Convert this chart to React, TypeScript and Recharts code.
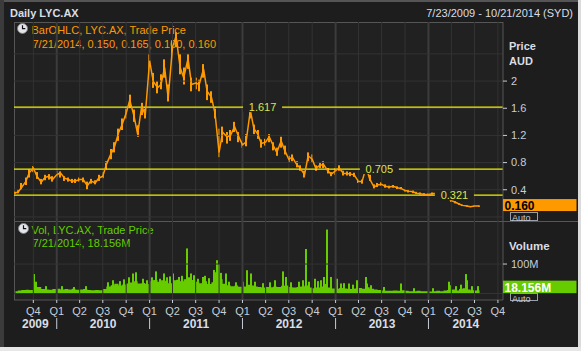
import React from 'react';
import { ComposedChart, Line, Area, Bar, XAxis, YAxis, ReferenceLine, ReferenceDot } from 'recharts';

// ---------- data ----------
const dates = [
  '2009-07-23','2009-08-01','2009-08-15','2009-09-01','2009-09-15','2009-10-01','2009-10-15','2009-11-01','2009-11-15','2009-12-01','2009-12-15',
  '2010-01-01','2010-01-15','2010-02-01','2010-02-15','2010-03-01','2010-03-15','2010-04-01','2010-04-15','2010-05-01','2010-05-15','2010-06-01','2010-06-15',
  '2010-07-01','2010-07-15','2010-08-01','2010-08-15','2010-09-01','2010-09-15','2010-10-01','2010-10-15','2010-11-01','2010-11-15','2010-12-01','2010-12-15',
  '2011-01-01','2011-01-15','2011-02-01','2011-02-15','2011-03-01','2011-03-15','2011-04-01','2011-04-15','2011-05-01','2011-05-15','2011-06-01','2011-06-15',
  '2011-07-01','2011-07-15','2011-08-01','2011-08-15','2011-09-01','2011-09-15','2011-10-01','2011-10-15','2011-11-01','2011-11-15','2011-12-01','2011-12-15',
  '2012-01-01','2012-01-15','2012-02-01','2012-02-15','2012-03-01','2012-03-15','2012-04-01','2012-04-15','2012-05-01','2012-05-15','2012-06-01','2012-06-15',
  '2012-07-01','2012-07-15','2012-08-01','2012-08-15','2012-09-01','2012-09-15','2012-10-01','2012-10-15','2012-11-01','2012-11-15','2012-12-01','2012-12-15',
  '2013-01-01','2013-01-15','2013-02-01','2013-02-15','2013-03-01','2013-03-15','2013-04-01','2013-04-15','2013-05-01','2013-05-15','2013-06-01','2013-06-15',
  '2013-07-01','2013-07-15','2013-08-01','2013-08-15','2013-09-01','2013-09-15','2013-10-01','2013-10-15','2013-11-01','2013-11-15','2013-12-01','2013-12-15',
  '2014-01-01','2014-01-15','2014-02-01','2014-02-15','2014-03-01','2014-03-15','2014-04-01','2014-04-15','2014-05-01','2014-05-15','2014-06-01','2014-06-15',
  '2014-07-01','2014-07-21',
];

const closes = [
  0.36, 0.36, 0.43, 0.52, 0.65, 0.72, 0.60, 0.51, 0.58, 0.60, 0.55,
  0.62, 0.65, 0.57, 0.55, 0.53, 0.53, 0.55, 0.55, 0.46, 0.53, 0.50, 0.57,
  0.60, 0.77, 0.92, 1.02, 1.24, 1.36, 1.53, 1.72, 1.48, 1.22, 1.63, 1.50,
  2.30, 2.00, 1.90, 1.95, 2.20, 1.75, 2.50, 2.66, 2.20, 2.05, 2.33, 1.95,
  1.97, 1.95, 2.18, 1.85, 1.76, 1.53, 0.95, 1.25, 1.18, 1.20, 1.33, 1.20,
  1.06, 1.10, 1.57, 1.30, 1.22, 1.08, 1.10, 1.18, 1.05, 0.95, 1.12, 0.98,
  0.85, 0.88, 0.77, 0.72, 0.62, 0.90, 0.85, 0.72, 0.76, 0.77, 0.68, 0.63,
  0.68, 0.72, 0.64, 0.64, 0.63, 0.62, 0.52, 0.52, 0.73, 0.56, 0.44, 0.47,
  0.48, 0.45, 0.44, 0.45, 0.43, 0.42, 0.39, 0.38, 0.37, 0.35, 0.34, 0.33,
  0.33, 0.34, 0.35, 0.34, 0.32, 0.28, 0.24, 0.22, 0.19, 0.17, 0.16, 0.15,
  0.16, 0.16,
];

const lows = [
  0.34, 0.35, 0.40, 0.47, 0.58, 0.66, 0.56, 0.48, 0.54, 0.55, 0.52,
  0.58, 0.58, 0.53, 0.52, 0.50, 0.50, 0.52, 0.51, 0.40, 0.49, 0.48, 0.53,
  0.57, 0.70, 0.85, 0.95, 1.12, 1.28, 1.45, 1.60, 1.40, 1.18, 1.50, 1.45,
  2.05, 1.90, 1.82, 1.88, 2.05, 1.70, 2.35, 2.50, 2.10, 1.95, 2.18, 1.85,
  1.88, 1.85, 2.05, 1.72, 1.68, 1.45, 0.88, 1.10, 1.08, 1.12, 1.25, 1.10,
  1.02, 1.04, 1.45, 1.22, 1.15, 1.02, 1.05, 1.10, 0.98, 0.90, 1.02, 0.92,
  0.80, 0.82, 0.73, 0.68, 0.58, 0.82, 0.80, 0.68, 0.72, 0.72, 0.64, 0.60,
  0.62, 0.68, 0.61, 0.61, 0.60, 0.59, 0.50, 0.49, 0.66, 0.53, 0.42, 0.44,
  0.46, 0.43, 0.42, 0.43, 0.41, 0.40, 0.37, 0.36, 0.35, 0.34, 0.33, 0.32,
  0.32, 0.33, 0.33, 0.32, 0.30, 0.26, 0.22, 0.20, 0.18, 0.16, 0.15, 0.145,
  0.15, 0.15,
];

const highs = [
  0.37, 0.40, 0.50, 0.58, 0.70, 0.75, 0.66, 0.56, 0.62, 0.63, 0.60,
  0.68, 0.67, 0.60, 0.58, 0.56, 0.56, 0.58, 0.58, 0.52, 0.56, 0.54, 0.62,
  0.66, 0.82, 1.00, 1.10, 1.30, 1.45, 1.62, 1.80, 1.58, 1.35, 1.68, 1.62,
  2.40, 2.12, 2.00, 2.10, 2.32, 1.95, 2.60, 2.72, 2.40, 2.20, 2.40, 2.05,
  2.05, 2.02, 2.25, 1.95, 1.85, 1.62, 1.30, 1.33, 1.25, 1.28, 1.40, 1.25,
  1.12, 1.22, 1.62, 1.36, 1.28, 1.14, 1.15, 1.22, 1.10, 1.02, 1.18, 1.05,
  0.90, 0.92, 0.82, 0.76, 0.68, 0.95, 0.92, 0.76, 0.80, 0.82, 0.72, 0.66,
  0.72, 0.76, 0.68, 0.67, 0.66, 0.65, 0.55, 0.55, 0.77, 0.62, 0.48, 0.50,
  0.51, 0.48, 0.46, 0.47, 0.45, 0.44, 0.41, 0.40, 0.39, 0.37, 0.36, 0.35,
  0.35, 0.36, 0.37, 0.36, 0.34, 0.30, 0.26, 0.23, 0.20, 0.18, 0.17, 0.16,
  0.165, 0.165,
];

// volume in millions
const volumes = [
  8, 10, 12, 13, 12, 30, 22, 15, 14, 13, 15,
  16, 14, 15, 14, 16, 13, 14, 15, 12, 11, 12, 11,
  15, 24, 28, 33, 27, 31, 34, 37, 42, 34, 36, 32,
  42, 46, 40, 45, 43, 35, 45, 47, 42, 48, 44, 46,
  40, 35, 42, 32, 38, 72, 48, 33, 28, 25, 27, 23,
  24, 30, 27, 24, 22, 20, 22, 21, 24, 22, 26, 27,
  22, 20, 22, 24, 27, 20, 18, 20, 24, 32, 20, 17,
  16, 19, 17, 16, 15, 17, 19, 16, 21, 16, 14, 12,
  10, 9, 9, 10, 9, 11, 9, 8, 8, 9, 8, 8,
  7, 8, 9, 8, 10, 12, 14, 10, 15, 18, 14, 11,
  10, 18.156,
];

const spikeDates = [
  '2009-10-05','2009-10-12','2009-11-20','2010-01-20','2010-03-10','2010-04-26','2010-07-20','2010-08-11','2010-09-08','2010-09-22',
  '2010-10-12','2010-10-28','2010-11-10','2010-12-08','2010-12-20','2011-01-10','2011-01-28','2011-02-10','2011-02-28','2011-03-10',
  '2011-03-22','2011-04-02','2011-04-28','2011-05-10','2011-05-27','2011-06-05','2011-06-13','2011-06-26','2011-07-10','2011-07-29',
  '2011-08-08','2011-08-22','2011-09-13','2011-09-22','2011-09-30','2011-10-08','2011-10-28','2011-11-08','2011-12-05','2012-01-05',
  '2012-01-20','2012-02-03','2012-02-20','2012-03-20','2012-04-20','2012-05-08','2012-06-08','2012-06-20','2012-07-10','2012-08-10',
  '2012-08-24','2012-09-06','2012-09-20','2012-10-12','2012-10-25','2012-11-05','2012-11-16','2012-11-30','2012-12-13','2013-01-08',
  '2013-01-22','2013-02-05','2013-02-22','2013-03-12','2013-03-28','2013-04-30','2013-05-06','2013-05-20','2013-07-10','2013-09-16',
  '2013-11-05','2014-01-20','2014-03-21','2014-03-28','2014-04-20','2014-05-10','2014-05-27','2014-06-02','2014-06-20','2014-07-15',
];
const spikeVolumes = [
  66, 40, 25, 25, 22, 25, 38, 45, 42, 48,
  55, 68, 72, 50, 45, 55, 75, 50, 68, 55,
  58, 68, 56, 60, 153, 55, 68, 62, 50, 56,
  60, 52, 80, 113, 100, 70, 68, 40, 38, 40,
  79, 68, 40, 35, 38, 45, 75, 56, 38, 40,
  45, 151, 40, 50, 42, 45, 56, 217, 56, 50,
  34, 35, 34, 30, 45, 56, 34, 28, 22, 34,
  18, 18, 40, 28, 25, 30, 66, 45, 25, 25,
];

const fibLevels = [1.617, 0.705, 0.321];
const fibLabelDates = ['2012-03-20', '2013-06-22', '2014-04-13'];
const fibLabels = ['1.617', '0.705', '0.321'];

const priceTicks = [0.4, 0.8, 1.2, 1.6, 2];
const priceGridLevels = [0, 0.4, 0.8, 1.2, 1.6, 2, 2.4];
const volumeTicks = [100];
const volumeGridLevels = [0, 100];

const quarterDates = [
  '2009-10-01',
  '2010-01-01','2010-04-01','2010-07-01','2010-10-01',
  '2011-01-01','2011-04-01','2011-07-01','2011-10-01',
  '2012-01-01','2012-04-01','2012-07-01','2012-10-01',
  '2013-01-01','2013-04-01','2013-07-01','2013-10-01',
  '2014-01-01','2014-04-01','2014-07-01','2014-10-01',
];
const yearLabels = ['2009', '2010', '2011', '2012', '2013', '2014'];
const yearStarts = ['2010-01-01', '2011-01-01', '2012-01-01', '2013-01-01', '2014-01-01'];

const rangeStart = '2009-07-17';
const rangeEnd = '2014-10-21';
const lastPrice = 0.16;
const lastVolume = 18.156;
const priceDomain = [-0.06, 2.87];
const volumeDomain = [-22, 246];

// ---------- styling ----------
const FONT = '"Liberation Sans", Arial, sans-serif';
const BG = '#1d1d1d';
const PLOT_BG = '#212121';
const GRID = '#333333';
const GRID_YEAR = '#3c3c3c';
const FRAME = '#565656';
const TICK = '#c6cdd8';
const LABEL = '#d8dde6';
const ORANGE = '#ff9900';
const GREEN = '#66cc00';
const YELLOW = '#f2f200';
const FIB_TEXT = '#dde34a';

const day = (s: string) => Date.parse(s + 'T00:00:00Z') / 86400000;
const d0 = day(rangeStart);
const d1 = day(rangeEnd);
const quarterDays = quarterDates.map(day);
const yearStartDays = yearStarts.map(day);
const yearCenters = yearLabels.map((_, i) => {
  const left = i === 0 ? d0 : yearStartDays[i - 1];
  const right = i === yearLabels.length - 1 ? d1 : yearStartDays[i];
  return (left + right) / 2;
});
const yearAxisTicks = [...yearCenters, ...yearStartDays];

const priceRows = dates.map((d, i) => ({ t: day(d), p: closes[i], hl: [lows[i], highs[i]] }));
const volRows = [
  ...dates.map((d, i) => ({ t: day(d), v: volumes[i] as number | undefined, s: undefined as number | undefined })),
  ...spikeDates.map((d, i) => ({ t: day(d), v: undefined as number | undefined, s: spikeVolumes[i] as number | undefined })),
].sort((a, b) => a.t - b.t);

const QuarterTick = (props: any) => {
  const { x, y, payload } = props;
  const m = new Date(payload.value * 86400000).getUTCMonth();
  return (
    <text x={x} y={y + 10} textAnchor="middle" fill={TICK} fontSize={11} fontFamily={FONT}>
      {'Q' + (Math.floor(m / 3) + 1)}
    </text>
  );
};

const YearTick = (props: any) => {
  const { x, y, payload } = props;
  const v = payload.value;
  if (yearStartDays.indexOf(v) >= 0) {
    return <line x1={x} x2={x} y1={y + 2} y2={y + 13} stroke={TICK} strokeWidth={1} />;
  }
  const i = yearCenters.indexOf(v);
  return (
    <text x={x} y={y + 12} textAnchor="middle" fill={LABEL} fontSize={12} fontWeight="bold" fontFamily={FONT}>
      {yearLabels[i]}
    </text>
  );
};

const Clock = ({ x, y }: { x: number; y: number }) => (
  <g transform={`translate(${x},${y})`}>
    <circle cx={5.5} cy={5.5} r={5} fill="#e4e6ea" stroke="#7d8088" strokeWidth={1} />
    <path d="M5.5 2.2 V5.7 H8.3" stroke="#111" strokeWidth={1.2} fill="none" />
  </g>
);

const RangeShape = (p: any) => {
  if (p.height == null || isNaN(p.y)) return null;
  const y = Math.min(p.y, p.y + p.height);
  const h = Math.max(Math.abs(p.height), 1);
  return <rect x={Math.round(p.x + p.width / 2) - 1} y={y} width={2} height={h} fill={ORANGE} />;
};

const SpikeShape = (p: any) => {
  if (p.height == null || isNaN(p.y)) return null;
  const y = Math.min(p.y, p.y + p.height);
  const h = Math.abs(p.height);
  return <rect x={Math.round(p.x + p.width / 2) - 1} y={y} width={2} height={h} fill={GREEN} />;
};

export default function App() {
  return (
    <div style={{ position: 'fixed', left: 0, top: 0, width: 581, height: 351, background: BG, overflow: 'hidden', fontFamily: FONT }}>
      <svg width={581} height={351} style={{ position: 'absolute', left: 0, top: 0 }}>
        <rect x={0} y={0} width={581} height={351} fill={BG} />
        <rect x={0} y={0} width={581} height={2} fill="#555" />
        <rect x={0} y={0} width={4} height={351} fill="#3b3b3b" />
        <rect x={578} y={0} width={3} height={351} fill="#dcdcdc" />
        <rect x={0} y={347} width={581} height={4} fill="#e6e6e6" />
        <rect x={14} y={22} width={489} height={278} fill={PLOT_BG} />
        <line x1={14} x2={503} y1={22.5} y2={22.5} stroke={FRAME} />
        <line x1={14.5} x2={14.5} y1={22} y2={300} stroke={FRAME} />
        <line x1={14} x2={578} y1={221.5} y2={221.5} stroke={FRAME} />

        <text x={10} y={16.5} fill={LABEL} fontSize={11} fontWeight="bold" fontFamily={FONT}>Daily LYC.AX</text>
        <text x={573} y={16.5} fill={LABEL} fontSize={11} textAnchor="end" fontFamily={FONT}>7/23/2009 - 10/21/2014 (SYD)</text>

        <Clock x={17} y={23} />
        <text x={31.5} y={34} fill={ORANGE} fontSize={11} fontFamily={FONT}>BarOHLC, LYC.AX, Trade Price</text>
        <text x={32.5} y={47.5} fill={ORANGE} fontSize={11} fontFamily={FONT}>7/21/2014, 0.150, 0.165, 0.160, 0.160</text>

        <Clock x={18} y={223} />
        <text x={31.5} y={234} fill={GREEN} fontSize={11} fontFamily={FONT}>Vol, LYC.AX, Trade Price</text>
        <text x={32.5} y={247} fill={GREEN} fontSize={11} fontFamily={FONT}>7/21/2014, 18.156M</text>

        <text x={509} y={50} fill={LABEL} fontSize={11} fontWeight="bold" fontFamily={FONT}>Price</text>
        <text x={509} y={65} fill={LABEL} fontSize={11} fontWeight="bold" fontFamily={FONT}>AUD</text>
        <text x={509} y={250} fill={LABEL} fontSize={11.5} fontWeight="bold" fontFamily={FONT}>Volume</text>

        <rect x={510.5} y={212.5} width={27} height={8} fill="none" stroke="#9aa0aa" />
        <text x={512} y={220.5} fill={TICK} fontSize={9} fontFamily={FONT}>Auto</text>
        <rect x={510.5} y={293.5} width={27} height={7} fill="none" stroke="#9aa0aa" />
        <text x={512} y={301.5} fill={TICK} fontSize={9} fontFamily={FONT}>Auto</text>
      </svg>

      <ComposedChart
        width={581}
        height={222}
        data={priceRows}
        margin={{ top: 22, right: 0, bottom: 1, left: 14 }}
        style={{ position: 'absolute', left: 0, top: 0 }}
      >
        <XAxis dataKey="t" type="number" domain={[d0, d1]} allowDataOverflow hide />
        <YAxis
          orientation="right"
          width={78}
          domain={priceDomain}
          allowDataOverflow
          ticks={priceTicks}
          interval={0}
          tickSize={4}
          tickMargin={4}
          tick={{ fill: TICK, fontSize: 11, fontFamily: FONT }}
          axisLine={{ stroke: FRAME }}
          tickLine={{ stroke: TICK }}
          tickFormatter={(v: number) => String(v)}
        />
        {quarterDays.map((q) => (
          <ReferenceLine
            key={'qx' + q}
            x={q}
            stroke={yearStartDays.indexOf(q) >= 0 ? GRID_YEAR : GRID}
            strokeWidth={yearStartDays.indexOf(q) >= 0 ? 2 : 1}
          />
        ))}
        {priceGridLevels.map((g) => (
          <ReferenceLine key={'py' + g} y={g} stroke={GRID} />
        ))}
        {fibLevels.map((f) => (
          <ReferenceLine key={'fib' + f} y={f} stroke={YELLOW} strokeWidth={1.2} />
        ))}
        <Bar dataKey="hl" barSize={2} fill={ORANGE} shape={RangeShape} isAnimationActive={false} />
        <Line
          dataKey="p"
          type="linear"
          stroke={ORANGE}
          strokeWidth={1.5}
          dot={false}
          isAnimationActive={false}
        />
        {fibLevels.map((f, i) => (
          <ReferenceDot
            key={'fl' + f}
            x={day(fibLabelDates[i])}
            y={f}
            r={0}
            shape={(p: any) => (
              <g>
                <rect x={p.cx - 19.5} y={p.cy - 5} width={39} height={10} fill={PLOT_BG} />
                <text x={p.cx} y={p.cy + 4} textAnchor="middle" fill={FIB_TEXT} fontSize={11} fontFamily={FONT}>
                  {fibLabels[i]}
                </text>
              </g>
            )}
          />
        ))}
        <ReferenceDot
          x={d1}
          y={lastPrice}
          r={0}
          shape={(p: any) => (
            <g>
              <rect x={p.cx} y={p.cy - 7} width={73.5} height={12} fill={ORANGE} />
              <text x={p.cx + 1.5} y={p.cy + 3.5} fill="#000" fontSize={12} fontWeight="bold" fontFamily={FONT}>
                {lastPrice.toFixed(3)}
              </text>
            </g>
          )}
        />
      </ComposedChart>

      <ComposedChart
        width={581}
        height={351}
        data={volRows}
        margin={{ top: 221, right: 0, bottom: 21, left: 14 }}
        style={{ position: 'absolute', left: 0, top: 0 }}
      >
        <XAxis
          dataKey="t"
          type="number"
          domain={[d0, d1]}
          allowDataOverflow
          ticks={quarterDays}
          interval={0}
          height={16}
          tickSize={3}
          tickMargin={2}
          axisLine={{ stroke: FRAME }}
          tickLine={{ stroke: TICK }}
          tick={(p: any) => <QuarterTick {...p} />}
        />
        <XAxis
          xAxisId="yr"
          dataKey="t"
          type="number"
          domain={[d0, d1]}
          allowDataOverflow
          ticks={yearAxisTicks}
          interval={0}
          height={14}
          tickSize={0}
          tickMargin={0}
          axisLine={false}
          tickLine={false}
          tick={(p: any) => <YearTick {...p} />}
        />
        <YAxis
          orientation="right"
          width={78}
          domain={volumeDomain}
          allowDataOverflow
          ticks={volumeTicks}
          interval={0}
          tickSize={4}
          tickMargin={4}
          tick={{ fill: TICK, fontSize: 11, fontFamily: FONT }}
          axisLine={{ stroke: FRAME }}
          tickLine={{ stroke: TICK }}
          tickFormatter={(v: number) => v + 'M'}
        />
        {quarterDays.map((q) => (
          <ReferenceLine
            key={'vx' + q}
            x={q}
            stroke={yearStartDays.indexOf(q) >= 0 ? GRID_YEAR : GRID}
            strokeWidth={yearStartDays.indexOf(q) >= 0 ? 2 : 1}
          />
        ))}
        {volumeGridLevels.map((g) => (
          <ReferenceLine key={'vy' + g} y={g} stroke={GRID} />
        ))}
        <Area
          dataKey="v"
          type="stepAfter"
          stroke="none"
          fill={GREEN}
          fillOpacity={1}
          connectNulls
          baseValue={0}
          isAnimationActive={false}
        />
        <Bar dataKey="s" fill={GREEN} barSize={2} shape={SpikeShape} isAnimationActive={false} />
        <ReferenceDot
          x={d1}
          y={lastVolume}
          r={0}
          shape={(p: any) => (
            <g>
              <rect x={p.cx} y={p.cy - 7.5} width={73.5} height={12.5} fill={GREEN} />
              <text x={p.cx + 1.5} y={p.cy + 3.5} fill="#fff" fontSize={12} fontWeight="bold" fontFamily={FONT}>
                {lastVolume + 'M'}
              </text>
            </g>
          )}
        />
      </ComposedChart>
    </div>
  );
}
